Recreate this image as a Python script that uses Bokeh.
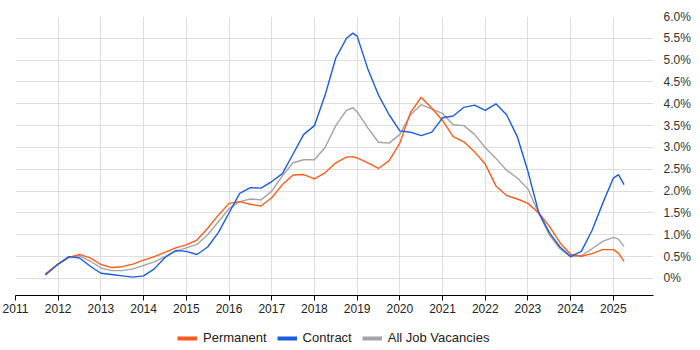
from bokeh.plotting import figure
from bokeh.layouts import column
from bokeh.models import (Range1d, FixedTicker, CustomJSTickFormatter, Legend, LegendItem)
from bokeh.embed import file_html
from bokeh.resources import INLINE

# ---- data (decimal years, percent of vacancies) ----
years = [2011.7, 2012.0, 2012.25, 2012.5, 2012.75, 2013.0, 2013.25, 2013.5, 2013.75,
         2014.0, 2014.25, 2014.5, 2014.75, 2015.0, 2015.25, 2015.5, 2015.75,
         2016.0, 2016.25, 2016.5, 2016.75, 2017.0, 2017.25, 2017.5, 2017.75,
         2018.0, 2018.25, 2018.5, 2018.75, 2018.9, 2019.0, 2019.25, 2019.5, 2019.75,
         2020.0, 2020.25, 2020.5, 2020.75, 2021.0, 2021.25, 2021.5, 2021.75,
         2022.0, 2022.25, 2022.5, 2022.75, 2023.0, 2023.25, 2023.5, 2023.75,
         2024.0, 2024.25, 2024.5, 2024.75, 2025.0, 2025.12, 2025.25]

permanent = [0.10, 0.33, 0.48, 0.55, 0.47, 0.32, 0.25, 0.27, 0.33,
             0.42, 0.50, 0.60, 0.70, 0.77, 0.88, 1.15, 1.45,
             1.72, 1.76, 1.70, 1.66, 1.85, 2.15, 2.37, 2.38,
             2.28, 2.42, 2.65, 2.78, 2.79, 2.76, 2.65, 2.52, 2.70,
             3.10, 3.80, 4.15, 3.90, 3.62, 3.25, 3.13, 2.90,
             2.62, 2.12, 1.90, 1.82, 1.72, 1.50, 1.20, 0.82,
             0.55, 0.51, 0.57, 0.66, 0.66, 0.58, 0.39]

contract = [0.08, 0.33, 0.50, 0.47, 0.28, 0.12, 0.09, 0.06, 0.03,
            0.06, 0.22, 0.48, 0.64, 0.62, 0.55, 0.72, 1.05,
            1.50, 1.95, 2.08, 2.07, 2.22, 2.40, 2.85, 3.30,
            3.50, 4.20, 5.05, 5.50, 5.62, 5.55, 4.80, 4.20, 3.75,
            3.38, 3.35, 3.27, 3.35, 3.68, 3.72, 3.92, 3.97,
            3.85, 4.00, 3.75, 3.25, 2.45, 1.52, 1.05, 0.72,
            0.50, 0.62, 1.10, 1.72, 2.30, 2.38, 2.15]

all_jobs = [0.10, 0.33, 0.48, 0.52, 0.40, 0.24, 0.18, 0.18, 0.22,
            0.30, 0.38, 0.50, 0.62, 0.70, 0.78, 1.00, 1.30,
            1.60, 1.76, 1.82, 1.80, 2.00, 2.35, 2.65, 2.72,
            2.72, 3.00, 3.50, 3.85, 3.91, 3.82, 3.45, 3.12, 3.10,
            3.30, 3.75, 3.98, 3.88, 3.78, 3.52, 3.50, 3.30,
            3.00, 2.75, 2.48, 2.30, 2.05, 1.50, 1.00, 0.68,
            0.50, 0.52, 0.68, 0.85, 0.94, 0.90, 0.73]

x_ticks = list(range(2011, 2026))
y_ticks = [0, 0.5, 1.0, 1.5, 2.0, 2.5, 3.0, 3.5, 4.0, 4.5, 5.0, 5.5, 6.0]

series_names = ["Permanent", "Contract", "All Job Vacancies"]
series_colors = ["#ff5a1a", "#1a5ce0", "#a3a3a3"]

FONT = "Liberation Sans"

p = figure(frame_width=638, frame_height=279, output_backend="svg",
           toolbar_location=None, y_axis_location="right",
           x_range=Range1d(2011, 2025.94), y_range=Range1d(-0.39, 6.0),
           min_border_left=15, min_border_top=16, min_border_right=39, min_border_bottom=25)

p.outline_line_color = None
p.background_fill_color = "white"

# grids
p.xgrid.ticker = FixedTicker(ticks=x_ticks)
p.ygrid.ticker = FixedTicker(ticks=y_ticks)
p.xgrid.grid_line_color = "#dddddd"
p.ygrid.grid_line_color = "#dddddd"

# x axis
xa = p.xaxis[0]
xa.ticker = FixedTicker(ticks=x_ticks)
xa.axis_line_color = "black"
xa.axis_line_width = 1
xa.major_tick_line_color = "black"
xa.major_tick_out = 5
xa.major_tick_in = 0
xa.minor_tick_line_color = None
xa.major_label_text_font = FONT
xa.major_label_text_font_size = "12px"
xa.major_label_text_color = "#222222"
xa.major_label_standoff = 3

# y axis (right)
ya = p.yaxis[0]
ya.ticker = FixedTicker(ticks=y_ticks)
ya.formatter = CustomJSTickFormatter(code="return tick === 0 ? '0%' : tick.toFixed(1) + '%';")
ya.axis_line_color = None
ya.major_tick_line_color = None
ya.minor_tick_line_color = None
ya.major_label_text_font = FONT
ya.major_label_text_font_size = "12px"
ya.major_label_text_color = "#333333"
ya.major_label_standoff = 4

# data lines (grey first so it sits under)
order = [2, 0, 1]
data = [permanent, contract, all_jobs]
for i in order:
    p.line(years, data[i], line_color=series_colors[i], line_width=1.4)

# legend in its own strip below the chart
lf = figure(width=692, height=30, output_backend="svg", toolbar_location=None,
            x_axis_type=None, y_axis_type=None, x_range=Range1d(0, 1), y_range=Range1d(0, 1),
            min_border=0)
lf.outline_line_color = None
lf.xgrid.visible = False
lf.ygrid.visible = False

items = []
for name, col in zip(series_names, series_colors):
    # swatch renderer: lies outside the visible range, only its legend glyph shows
    r = lf.line([-5, -4], [-5, -4], line_color=col, line_width=4)
    items.append(LegendItem(label=name, renderers=[r]))

legend = Legend(items=items, orientation="horizontal", location=(162, 5),
                border_line_color=None, background_fill_alpha=0,
                label_text_font=FONT, label_text_font_size="13px",
                label_text_color="#222222", glyph_width=20, glyph_height=14,
                label_height=14, label_standoff=6, spacing=10, padding=2, margin=0)
lf.add_layout(legend, "center")

layout = column(p, lf, spacing=0)
open("out.html", "w").write(file_html(layout, INLINE))
